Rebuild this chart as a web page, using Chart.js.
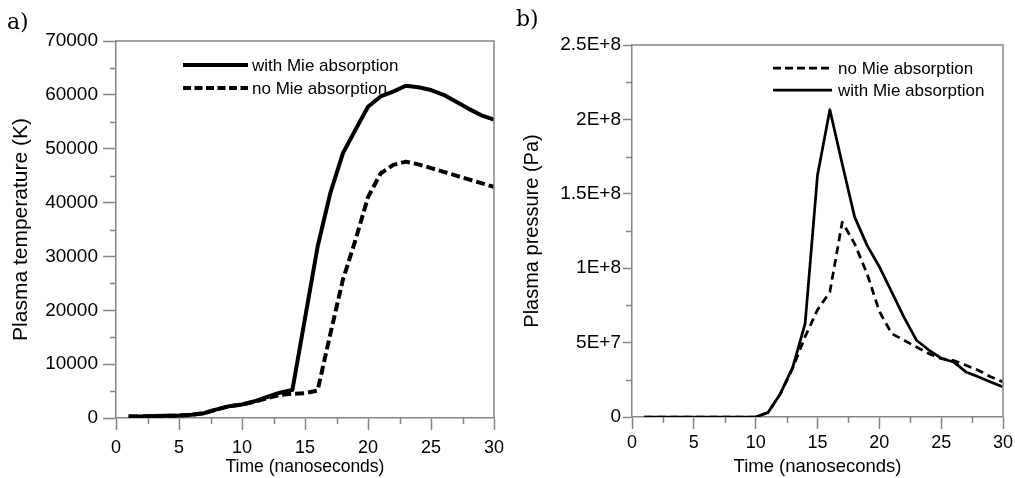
<!DOCTYPE html>
<html>
<head>
<meta charset="utf-8">
<script src="https://cdn.jsdelivr.net/npm/chart.js@4.4.1/dist/chart.umd.min.js"></script>
<style>
  body { margin: 0; background: #fff; }
  #wrap { position: relative; width: 1015px; height: 478px; }
  canvas { position: absolute; top: 0; }
  .plabel { position: absolute; font: 22px 'DejaVu Serif', serif; color: #000; }
</style>
</head>
<body>
<div id="wrap">
  <canvas id="chartA" width="505" height="478" style="left:0"></canvas>
  <canvas id="chartB" width="510" height="478" style="left:505px"></canvas>
  <div class="plabel" style="left:7px;top:9px">a)</div>
  <div class="plabel" style="left:516px;top:6px">b)</div>
</div>
<script>
// --- Data ---
const times = [1, 2, 3, 4, 5, 6, 7, 8, 9, 10, 11, 12, 13, 14, 15, 16, 17, 18, 19, 20, 21, 22, 23, 24, 25, 26, 27, 28, 29, 30];

// a) plasma temperature (K)
const tempWithMie = [300, 300, 350, 400, 450, 600, 900, 1600, 2200, 2500, 3100, 3900, 4700, 5200, 18500,
  31800, 41700, 49100, 53500, 57800, 59700, 60600, 61700, 61400, 60900, 60000, 58700, 57400, 56200, 55400];
const tempNoMie = [300, 300, 350, 400, 450, 600, 900, 1600, 2200, 2500, 3000, 3700, 4300, 4500, 4600,
  5100, 15500, 25600, 33000, 41000, 45400, 47000, 47600, 47100, 46400, 45700, 45000, 44300, 43600, 42900];

// b) plasma pressure (Pa)
const pressureNoMie = [0, 0, 0, 0, 0, 0, 0, 0, 0, 0, 3e6, 15.7e6, 33e6, 54e6, 72e6,
  84e6, 131e6, 116.5e6, 96.5e6, 71e6, 56e6, 51.6e6, 47e6, 42.6e6, 39.2e6, 38e6, 34.8e6, 31.4e6, 27e6, 23.5e6];
const pressureWithMie = [0, 0, 0, 0, 0, 0, 0, 0, 0, 0, 3e6, 15.7e6, 33.6e6, 62.8e6, 162.5e6,
  206.5e6, 170e6, 134.5e6, 115.5e6, 101e6, 84e6, 67e6, 51.6e6, 45e6, 39.5e6, 37e6, 30.3e6, 27e6, 23.5e6, 20.2e6];
const pressureTickLabels = ['0', '5E+7', '1E+8', '1.5E+8', '2E+8', '2.5E+8'];

const AXIS = '#858585';
const FONT = "'Liberation Sans', Arial, sans-serif";
Chart.defaults.font.family = FONT;
Chart.defaults.color = '#000';

const toPoints = (ys) => times.map((t, i) => ({ x: t, y: ys[i] }));

// frame (top/right), minor ticks and an in-plot legend
const framePlugin = {
  id: 'frame',
  afterDraw(chart, args, o) {
    const { ctx, chartArea: a, scales: { x, y } } = chart;
    ctx.save();
    ctx.strokeStyle = AXIS;
    ctx.lineWidth = 1.5;
    ctx.beginPath();
    ctx.moveTo(a.left, a.top); ctx.lineTo(a.right, a.top); ctx.lineTo(a.right, a.bottom);
    // minor ticks halfway between majors
    for (let v = o.xMinor; v < x.max; v += o.xMinor * 2) {
      const px = Math.round(x.getPixelForValue(v)) + 0.5;
      ctx.moveTo(px, a.bottom); ctx.lineTo(px, a.bottom + o.minorLen);
    }
    for (let v = o.yMinor; v < y.max; v += o.yMinor * 2) {
      const py = Math.round(y.getPixelForValue(v)) + 0.5;
      ctx.moveTo(a.left, py); ctx.lineTo(a.left - o.minorLen, py);
    }
    ctx.stroke();

    // legend
    const lg = o.legend;
    ctx.font = lg.font + 'px ' + FONT;
    ctx.textBaseline = 'middle';
    ctx.fillStyle = '#000';
    lg.order.forEach((di, row) => {
      const ds = chart.data.datasets[di];
      const yy = lg.y + row * lg.rowH;
      ctx.beginPath();
      ctx.strokeStyle = '#000';
      ctx.lineWidth = ds.borderWidth;
      ctx.setLineDash(lg.dashes[row]);
      ctx.moveTo(lg.x, yy); ctx.lineTo(lg.x + lg.len, yy);
      ctx.stroke();
      ctx.setLineDash([]);
      ctx.fillText(ds.label, lg.x + lg.len + lg.gap, yy + 1);
    });
    ctx.restore();
  }
};

function makeChart(id, cfg) {
  return new Chart(document.getElementById(id), {
    type: 'line',
    data: { datasets: cfg.datasets },
    options: {
      responsive: false,
      animation: false,
      layout: { padding: { left: 0, right: cfg.padRight, top: cfg.padTop, bottom: 0 } },
      elements: { point: { radius: 0 }, line: { tension: 0, borderJoinStyle: 'round' } },
      plugins: { legend: { display: false }, tooltip: { enabled: false }, frame: cfg.frame },
      scales: {
        x: {
          type: 'linear', min: 0, max: 30,
          border: { color: AXIS, width: 1.5 },
          grid: { drawOnChartArea: false, tickLength: 12, tickColor: AXIS, tickWidth: 1.5 },
          ticks: { stepSize: 5, padding: cfg.xTickPad, font: { size: 18 }, maxRotation: 0 },
          title: { display: true, text: 'Time (nanoseconds)', font: { size: cfg.xTitleSize }, padding: { top: 0, bottom: 0 } },
          afterFit: (s) => { s.height = cfg.xHeight; s.paddingLeft = 0; s.paddingRight = 0; }
        },
        y: {
          min: 0, max: cfg.yMax,
          border: { color: AXIS, width: 1.5 },
          grid: { drawOnChartArea: false, tickLength: cfg.yTick, tickColor: AXIS, tickWidth: 1.5 },
          ticks: { stepSize: cfg.yStep, padding: cfg.yTickPad, font: { size: 19 }, callback: cfg.yLabel },
          title: { display: true, text: cfg.yTitle, font: { size: cfg.yTitleSize }, padding: { top: cfg.yTitlePad, bottom: 0 } },
          afterFit: (s) => { s.width = cfg.yWidth; s.paddingTop = 0; s.paddingBottom = 0; }
        }
      }
    },
    plugins: [framePlugin]
  });
}

makeChart('chartA', {
  datasets: [
    { label: 'with Mie absorption', data: toPoints(tempWithMie), borderColor: '#000', borderWidth: 4 },
    { label: 'no Mie absorption', data: toPoints(tempNoMie), borderColor: '#000', borderWidth: 4, borderDash: [9, 4] }
  ],
  padRight: 11, padTop: 41, xHeight: 60, yWidth: 116, xTickPad: 7,
  yMax: 70000, yStep: 10000, yTick: 13, yTickPad: 5,
  yLabel: (v) => String(v),
  yTitle: 'Plasma temperature (K)', yTitleSize: 21, yTitlePad: 9, xTitleSize: 17.5,
  frame: { xMinor: 2.5, yMinor: 5000, minorLen: 6,
    legend: { x: 183, y: 65, len: 65, gap: 4, rowH: 23, font: 17, order: [0, 1], dashes: [[], [8, 3.5]] } }
});

makeChart('chartB', {
  datasets: [
    { label: 'no Mie absorption', data: toPoints(pressureNoMie), borderColor: '#000', borderWidth: 2.75, borderDash: [8, 5] },
    { label: 'with Mie absorption', data: toPoints(pressureWithMie), borderColor: '#000', borderWidth: 2.75 }
  ],
  padRight: 12, padTop: 45, xHeight: 61, yWidth: 127, xTickPad: 3,
  yMax: 2.5e8, yStep: 5e7, yTick: 9, yTickPad: 2,
  yLabel: (v, i) => pressureTickLabels[i],
  yTitle: 'Plasma pressure (Pa)', yTitleSize: 20, yTitlePad: 15, xTitleSize: 18.5,
  frame: { xMinor: 2.5, yMinor: 2.5e7, minorLen: 6,
    legend: { x: 268, y: 68, len: 59, gap: 6, rowH: 22, font: 17, order: [0, 1], dashes: [[8, 4], []] } }
});
</script>
</body>
</html>
